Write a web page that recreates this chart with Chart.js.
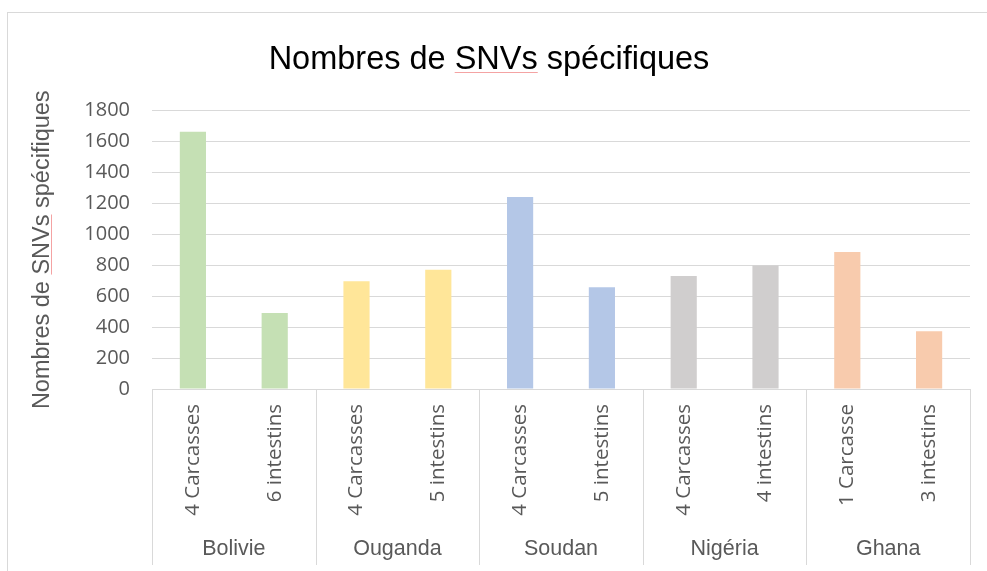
<!DOCTYPE html>
<html lang="fr">
<head>
<meta charset="utf-8">
<title>Nombres de SNVs spécifiques</title>
<script src="https://cdn.jsdelivr.net/npm/chart.js@4/dist/chart.umd.min.js"></script>
<style>
  html, body { margin: 0; padding: 0; background: #fff; overflow: hidden; }
  #cadre {
    position: absolute; left: 7px; top: 12px;
    width: 992px; height: 570px;
    border: 1px solid #d9d9d9;
    background: #fff;
  }
  #snvChart { display: block; }
</style>
</head>
<body>
<div id="cadre">
  <canvas id="snvChart" width="992" height="560"></canvas>
</div>
<script>
// Pays (niveau 2 de l'axe) et échantillons (niveau 1)
const pays = ['Bolivie', 'Ouganda', 'Soudan', 'Nigéria', 'Ghana'];
const echantillons = [
  '4 Carcasses', '6 intestins',
  '4 Carcasses', '5 intestins',
  '4 Carcasses', '5 intestins',
  '4 Carcasses', '4 intestins',
  '1 Carcasse', '3 intestins'
];
const nbSNVs = [1662, 492, 697, 770, 1241, 658, 730, 799, 885, 374];
const couleursPays = ['#c5e0b4', '#ffe699', '#b4c7e7', '#d0cece', '#f8cbad'];
const yTicks = [0, 200, 400, 600, 800, 1000, 1200, 1400, 1600, 1800];

const titre = 'Nombres de SNVs spécifiques';
const gris = '#595959';
const grille = '#d9d9d9';

// 2 échantillons par pays
const parPays = echantillons.length / pays.length;
const couleursBarres = nbSNVs.map((v, i) => couleursPays[Math.floor(i / parPays)]);

// petit trait rouge sous "SNVs" (correcteur orthographique)
function soulignerMot(ctx, font, texte, mot, xDebut, yMilieu, vertical) {
  ctx.save();
  ctx.font = font;
  ctx.textBaseline = 'middle';
  const avant = ctx.measureText(texte.slice(0, texte.indexOf(mot))).width;
  const larg = ctx.measureText(mot).width;
  const desc = ctx.measureText('N').actualBoundingBoxDescent + 2.5;
  ctx.strokeStyle = '#f4a3a3';
  ctx.lineWidth = 1;
  ctx.beginPath();
  if (!vertical) {
    const y = Math.round(yMilieu + desc) + 0.5;
    ctx.moveTo(xDebut + avant, y);
    ctx.lineTo(xDebut + avant + larg, y);
  } else {
    const x = Math.round(yMilieu + desc) + 0.5;
    ctx.moveTo(x, xDebut - avant);
    ctx.lineTo(x, xDebut - avant - larg);
  }
  ctx.stroke();
  ctx.restore();
}

// axe des catégories à deux niveaux : séparateurs + noms de pays
const axeMultiNiveau = {
  id: 'axeMultiNiveau',
  afterDraw(chart) {
    const ctx = chart.ctx;
    const x = chart.scales.x;
    ctx.save();
    ctx.strokeStyle = grille;
    ctx.lineWidth = 1;
    for (let g = 0; g <= pays.length; g++) {
      const px = Math.round(x.getPixelForValue(g * parPays - 0.5)) + 0.5;
      ctx.beginPath();
      ctx.moveTo(px, x.top);
      ctx.lineTo(px, x.bottom);
      ctx.stroke();
    }
    ctx.fillStyle = gris;
    ctx.font = '21.5px "Liberation Sans", Arial, sans-serif';
    ctx.textAlign = 'center';
    ctx.textBaseline = 'middle';
    pays.forEach((p, g) => {
      const cx = x.getPixelForValue(g * parPays + (parPays - 1) / 2);
      ctx.fillText(p, cx, x.bottom - 16);
    });
    ctx.restore();

    // soulignement dans le titre
    const tb = chart.titleBlock;
    const tOpts = chart.options.plugins.title;
    const tFont = '32.5px "Liberation Sans", Arial, sans-serif';
    ctx.save();
    ctx.font = tFont;
    const wT = ctx.measureText(titre).width;
    ctx.restore();
    const midT = tb.top + tOpts.padding.top + 32.5 * 1.2 / 2;
    soulignerMot(ctx, tFont, titre, 'SNVs', (tb.left + tb.right) / 2 - wT / 2, midT, false);

    // soulignement dans le titre de l'axe Y
    const y = chart.scales.y;
    const yFont = '23.5px "Liberation Sans", Arial, sans-serif';
    ctx.save();
    ctx.font = yFont;
    const wY = ctx.measureText(titre).width;
    ctx.restore();
    const midX = y.left + 20 + 23.5 * 1.2 / 2;
    const midY = (y.top + y.bottom) / 2;
    soulignerMot(ctx, yFont, titre, 'SNVs', midY + wY / 2, midX, true);
  }
};

new Chart(document.getElementById('snvChart'), {
  type: 'bar',
  data: {
    labels: echantillons,
    datasets: [{
      label: titre,
      data: nbSNVs,
      backgroundColor: couleursBarres,
      borderWidth: 0,
      barPercentage: 0.32,
      categoryPercentage: 1
    }]
  },
  options: {
    responsive: false,
    animation: false,
    layout: { padding: { left: 0, right: 30, top: 0, bottom: 8 } },
    plugins: {
      legend: { display: false },
      tooltip: { enabled: false },
      title: {
        display: true,
        text: titre,
        color: '#000',
        font: { family: '"Liberation Sans", Arial, sans-serif', size: 32.5, weight: 'normal' },
        padding: { top: 28, bottom: 30.5 }
      }
    },
    scales: {
      x: {
        grid: { display: false, drawTicks: false },
        border: { display: false },
        ticks: {
          autoSkip: false,
          minRotation: 90,
          maxRotation: 90,
          padding: 15,
          color: gris,
          font: { family: '"Open Sans", sans-serif', size: 20.5 }
        },
        afterFit(scale) { scale.height = 176; }
      },
      y: {
        min: 0,
        max: yTicks[yTicks.length - 1],
        afterBuildTicks(scale) { scale.ticks = yTicks.map(v => ({ value: v })); },
        grid: { color: grille, lineWidth: 1, drawTicks: false },
        border: { display: false },
        ticks: {
          padding: 22,
          color: gris,
          font: { family: '"Open Sans", sans-serif', size: 20 },
          callback: v => String(v)
        },
        title: {
          display: true,
          text: titre,
          color: gris,
          font: { family: '"Liberation Sans", Arial, sans-serif', size: 23.5 },
          padding: { top: 20, bottom: 0 }
        },
        afterFit(scale) { scale.width = 144; }
      }
    }
  },
  plugins: [axeMultiNiveau]
});
</script>
</body>
</html>
